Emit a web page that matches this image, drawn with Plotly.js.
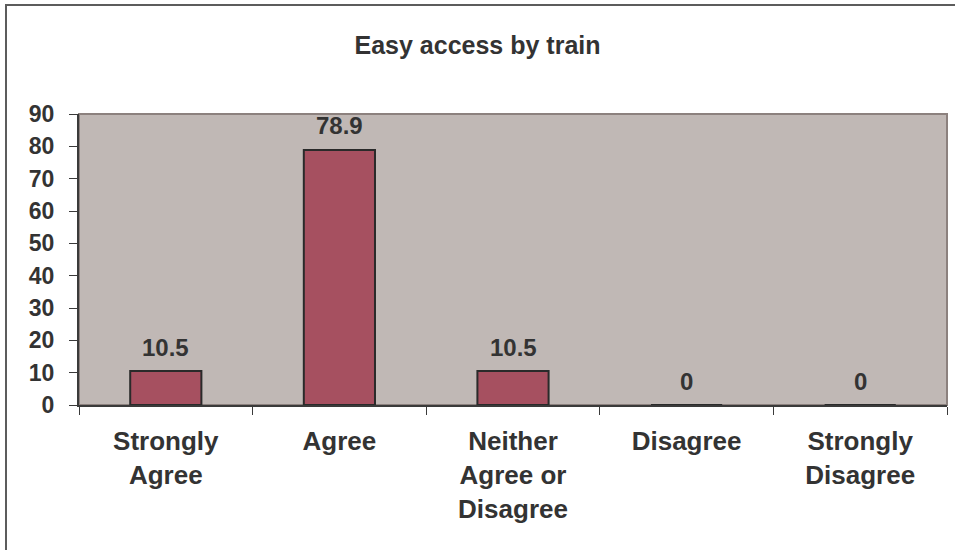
<!DOCTYPE html>
<html>
<head>
<meta charset="utf-8">
<script src="https://cdn.plot.ly/plotly-3.0.1.min.js"></script>
<style>
  html, body { margin: 0; padding: 0; background: #ffffff; }
  #wrap { position: relative; width: 955px; height: 550px; overflow: hidden; }
  #chart { position: absolute; left: 0; top: 0; width: 955px; height: 550px; }
  #frame { position: absolute; left: 5px; top: 4px; width: 970px; height: 570px;
           border: 2px solid #5c5c5c; box-sizing: border-box; pointer-events: none; }
</style>
</head>
<body>
<div id="wrap">
  <div id="chart"></div>
  <div id="frame"></div>
</div>
<script>
// Survey responses: "Easy access by train" (percent of respondents)
const categories = ["Strongly<br>Agree", "Agree", "Neither<br>Agree or<br>Disagree", "Disagree", "Strongly<br>Disagree"];
const percentages = [10.5, 78.9, 10.5, 0, 0];
const valueLabels = ["10.5", "78.9", "10.5", "0", "0"];
const yTicks = [0, 10, 20, 30, 40, 50, 60, 70, 80, 90];

const textColor = "#333333";
const fontFamily = "Liberation Sans, Arial, sans-serif";

const trace = {
  type: "bar",
  x: categories,
  y: percentages,
  width: 0.41,
  marker: { color: "#a65060", line: { color: "#2a2a2a", width: 2 } },
  hoverinfo: "skip"
};

// value labels sit a fixed distance above each bar top
const annotations = categories.map((c, i) => ({
  x: c,
  y: percentages[i],
  xref: "x",
  yref: "y",
  text: valueLabels[i],
  showarrow: false,
  yanchor: "middle",
  yshift: 24,
  font: { family: fontFamily, size: 24, color: textColor, weight: "bold" }
}));

const layout = {
  width: 955,
  height: 550,
  margin: { l: 79, r: 8, t: 114, b: 145 },
  paper_bgcolor: "rgba(0,0,0,0)",
  plot_bgcolor: "#c0b8b5",
  showlegend: false,
  title: {
    text: "Easy access by train",
    font: { family: fontFamily, size: 25, color: textColor, weight: "bold" },
    x: 0.5,
    xanchor: "center",
    xref: "container",
    y: 1 - 45 / 550,
    yanchor: "middle",
    yref: "container"
  },
  xaxis: {
    type: "category",
    showgrid: false,
    showline: true,
    linecolor: "#3a3a3a",
    linewidth: 2,
    ticks: "outside",
    tickson: "boundaries",
    ticklen: 8,
    tickwidth: 1,
    tickcolor: "#3a3a3a",
    ticklabelstandoff: 12,
    tickfont: { family: fontFamily, size: 26, color: textColor, weight: "bold" },
    fixedrange: true
  },
  yaxis: {
    range: [0, 90],
    tickvals: yTicks,
    ticktext: yTicks.map(String),
    showgrid: false,
    zeroline: false,
    showline: true,
    linecolor: "#3a3a3a",
    linewidth: 2,
    ticks: "outside",
    ticklen: 8,
    tickwidth: 1,
    tickcolor: "#3a3a3a",
    ticklabelstandoff: 10,
    tickfont: { family: fontFamily, size: 23, color: textColor, weight: "bold" },
    fixedrange: true
  },
  shapes: [{
    type: "rect",
    xref: "paper", yref: "paper",
    x0: 0, x1: 1, y0: 0, y1: 1,
    line: { color: "#8c817e", width: 2 },
    fillcolor: "rgba(0,0,0,0)",
    layer: "below"
  }],
  annotations: annotations
};

Plotly.newPlot("chart", [trace], layout, { displayModeBar: false, staticPlot: true });
</script>
</body>
</html>
